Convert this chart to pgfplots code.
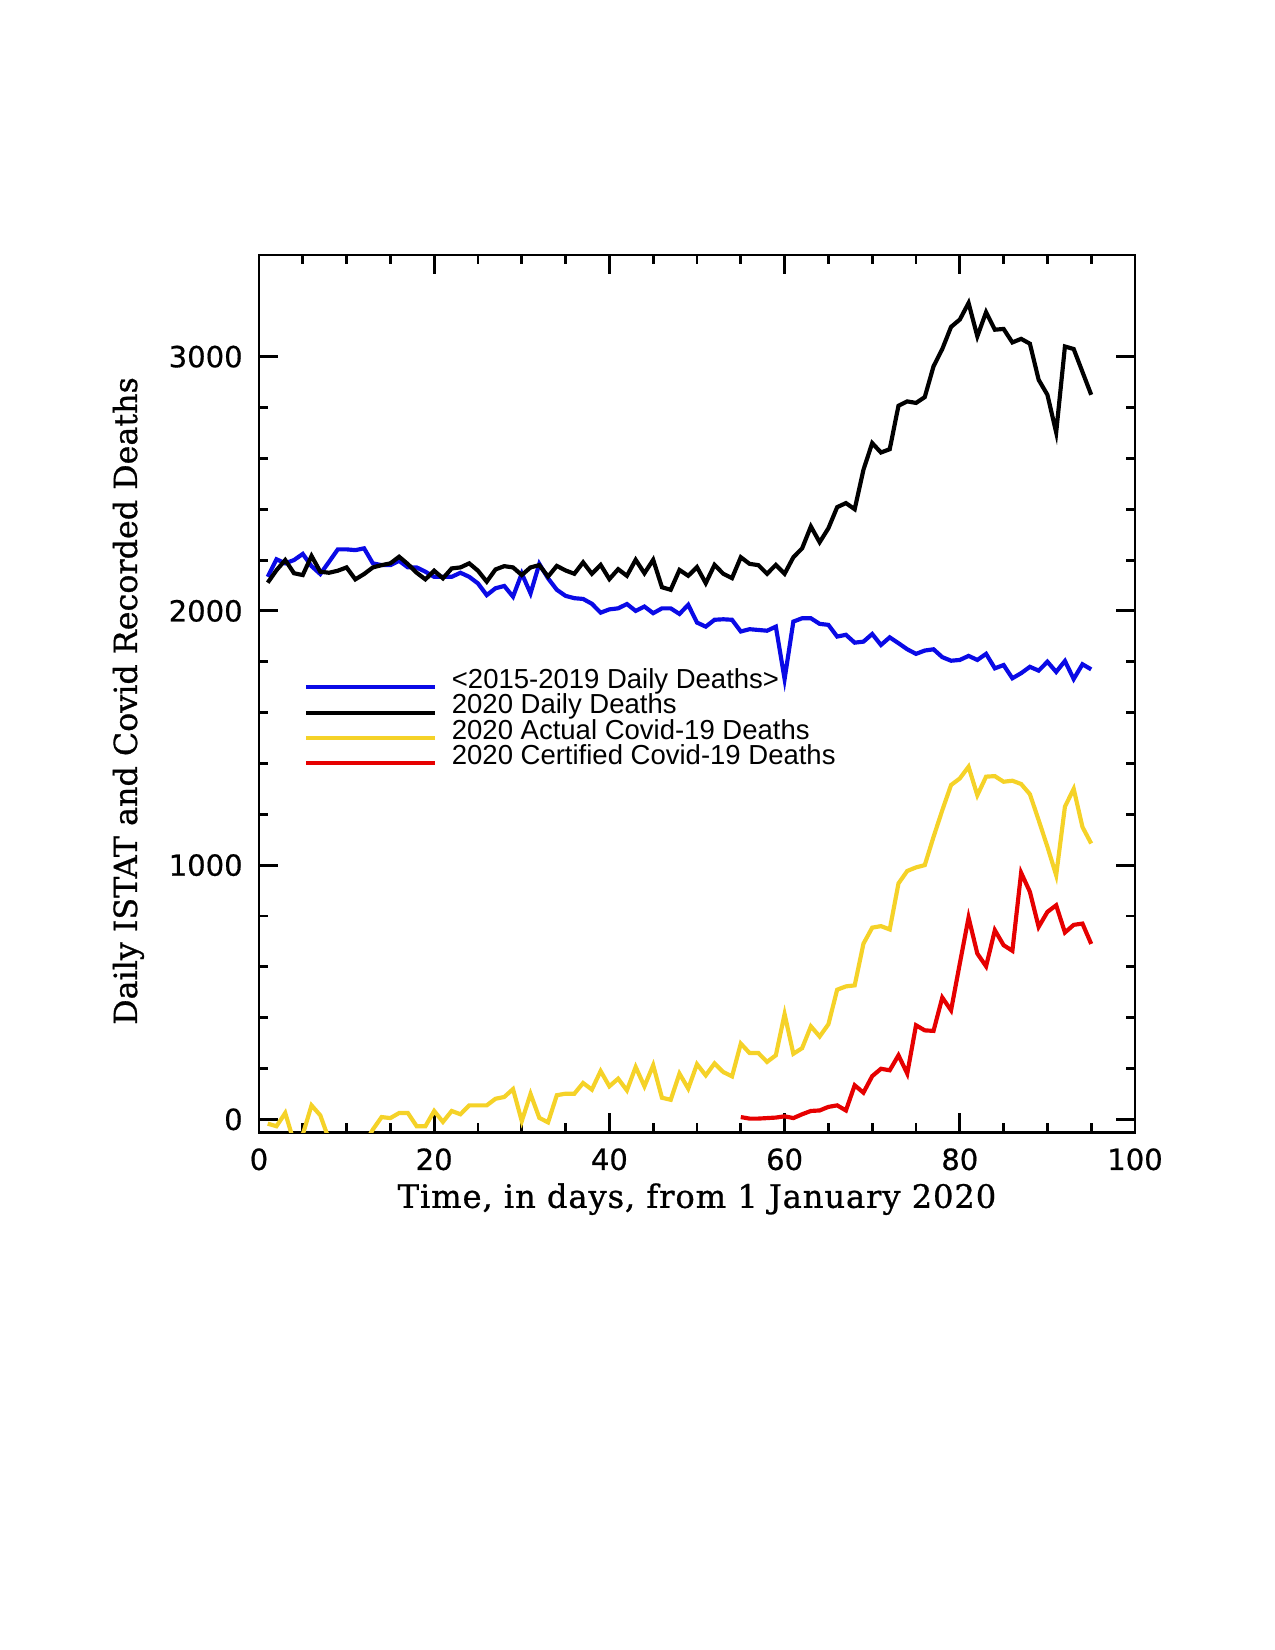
\documentclass[border=0pt]{standalone}
\usepackage{fontspec}
\usepackage{pgfplots}
\pgfplotsset{compat=1.18}
\usepackage{pgfplotstable}
\newfontfamily\tickfont[FakeBold=0.6]{DejaVu Sans}
\newfontfamily\labfont[FakeBold=0.8]{DejaVu Serif}
\newfontfamily\xlabfont[FakeBold=0.8,LetterSpace=2.8]{DejaVu Serif}
\newfontfamily\legfont{Liberation Sans}
\definecolor{cblue}{RGB}{10,10,230}
\definecolor{cyellow}{RGB}{245,210,40}
\definecolor{cred}{RGB}{230,0,0}
\pgfplotstableread{
day avg y2020
1 2134 2111
2 2203 2160
3 2187 2200
4 2200 2148
5 2224 2141
6 2176 2216
7 2145 2154
8 2193 2150
9 2242 2158
10 2242 2171
11 2239 2124
12 2246 2145
13 2187 2171
14 2180 2180
15 2180 2187
16 2197 2213
17 2171 2184
18 2171 2150
19 2154 2124
20 2134 2158
21 2134 2128
22 2134 2167
23 2150 2171
24 2134 2187
25 2108 2158
26 2062 2115
27 2089 2163
28 2098 2176
29 2056 2171
30 2147 2141
31 2069 2171
32 2185 2180
33 2128 2135
34 2083 2177
35 2059 2159
36 2050 2146
37 2047 2191
38 2028 2146
39 1993 2181
40 2006 2125
41 2010 2164
42 2027 2138
43 2000 2201
44 2017 2148
45 1991 2201
46 2010 2093
47 2010 2083
48 1988 2161
49 2024 2138
50 1954 2172
51 1938 2109
52 1965 2181
53 1967 2146
54 1965 2129
55 1919 2211
56 1928 2185
57 1925 2180
58 1922 2146
59 1938 2181
60 1732 2146
61 1958 2211
62 1971 2246
63 1971 2332
64 1949 2270
65 1945 2325
66 1899 2408
67 1906 2424
68 1875 2400
69 1879 2555
70 1909 2660
71 1866 2623
72 1896 2636
73 1873 2807
74 1849 2824
75 1831 2818
76 1844 2841
77 1849 2962
78 1818 3030
79 1804 3117
80 1807 3146
81 1823 3211
82 1807 3080
83 1831 3175
84 1774 3106
85 1787 3109
86 1735 3056
87 1755 3070
88 1780 3051
89 1765 2909
90 1800 2850
91 1760 2702
92 1803 3040
93 1732 3030
94 1790 2940
95 1770 2850
}\tabdeaths
\pgfplotstableread{
day actual
1 -17
2 -27
3 25
4 -90
5 -60
6 55
7 16
8 -80
9 -100
10 -100
11 -100
12 -100
13 -40
14 9
15 5
16 25
17 25
18 -27
19 -27
20 33
21 -10
22 33
23 20
24 55
25 55
26 55
27 81
28 88
29 119
30 -7
31 100
32 6
33 -12
34 95
35 101
36 101
37 143
38 117
39 190
40 130
41 160
42 114
43 206
44 130
45 213
46 85
47 77
48 180
49 121
50 217
51 173
52 220
53 186
54 169
55 298
56 261
57 261
58 226
59 252
60 414
61 258
62 280
63 366
64 326
65 374
66 510
67 523
68 527
69 691
70 754
71 760
72 747
73 928
74 977
75 991
76 1000
77 1111
78 1216
79 1315
80 1341
81 1387
82 1275
83 1348
84 1350
85 1328
86 1332
87 1319
88 1279
89 1177
90 1072
91 960
92 1230
93 1300
94 1150
95 1085
}\tabactual
\pgfplotstableread{
day cert
55 9
56 3
57 3
58 5
59 7
60 12
61 5
62 20
63 33
64 35
65 49
66 55
67 35
68 134
69 105
70 170
71 199
72 193
73 252
74 180
75 370
76 350
77 348
78 479
79 429
80 613
81 794
82 652
83 602
84 744
85 685
86 663
87 970
88 895
89 757
90 816
91 842
92 735
93 765
94 770
95 690
}\tabcert
\begin{document}
\begin{tikzpicture}[x=1bp,y=1bp]
\useasboundingbox (0,0) rectangle (612,792);
\begin{axis}[
  at={(124.3bp,248.6bp)}, anchor=south west,
  width=420.5bp, height=421bp, scale only axis,
  xmin=0, xmax=100, ymin=-50, ymax=3400,
  xtick={0,20,...,100}, minor x tick num=3,
  ytick={0,1000,2000,3000}, minor y tick num=4,
  tick align=inside,
  major tick length=9bp, minor tick length=4.5bp,
  axis line style={line width=1.4bp},
  tick style={line width=1.4bp, black},
  /pgf/number format/assume math mode=true,
  /pgf/number format/1000 sep={},
  ticklabel style={font=\fontsize{14}{16}\tickfont},
  xticklabel style={yshift=-4.3bp},
  yticklabel style={xshift=-4.3bp},
  xlabel={Time, in days, from 1 January 2020},
  ylabel={Daily ISTAT and Covid Recorded Deaths},
  xlabel style={font=\fontsize{15.5}{17}\xlabfont, at={(axis description cs:0.5,-0.0765)}, anchor=center},
  ylabel style={font=\fontsize{15.3}{17}\labfont, at={(axis description cs:-0.149,0.4915)}, anchor=center, rotate=0},
  legend style={at={(axis cs:5.14,1772)}, anchor=north west, draw=none, fill=none,
    inner sep=0pt, outer sep=0pt, row sep=0pt, column sep=7bp,
    font=\fontsize{13.25}{12}\legfont,
    nodes={inner sep=0pt, text height=9.5bp, text depth=2.6bp, anchor=base west}},
  legend cell align=left,
  legend image code/.code={\draw[#1,line width=2bp] (0bp,0.6bp) -- (62bp,0.6bp);},
]
\addplot[cblue, line width=2bp] table[x=day, y=avg] {\tabdeaths};
\addlegendentry{<2015-2019 Daily Deaths>}
\addplot[black, line width=2bp] table[x=day, y=y2020] {\tabdeaths};
\addlegendentry{2020 Daily Deaths}
\addplot[cyellow, line width=2bp] table[x=day, y=actual] {\tabactual};
\addlegendentry{2020 Actual Covid-19 Deaths}
\addplot[cred, line width=2bp] table[x=day, y=cert] {\tabcert};
\addlegendentry{2020 Certified Covid-19 Deaths}
\end{axis}
\end{tikzpicture}
\end{document}
